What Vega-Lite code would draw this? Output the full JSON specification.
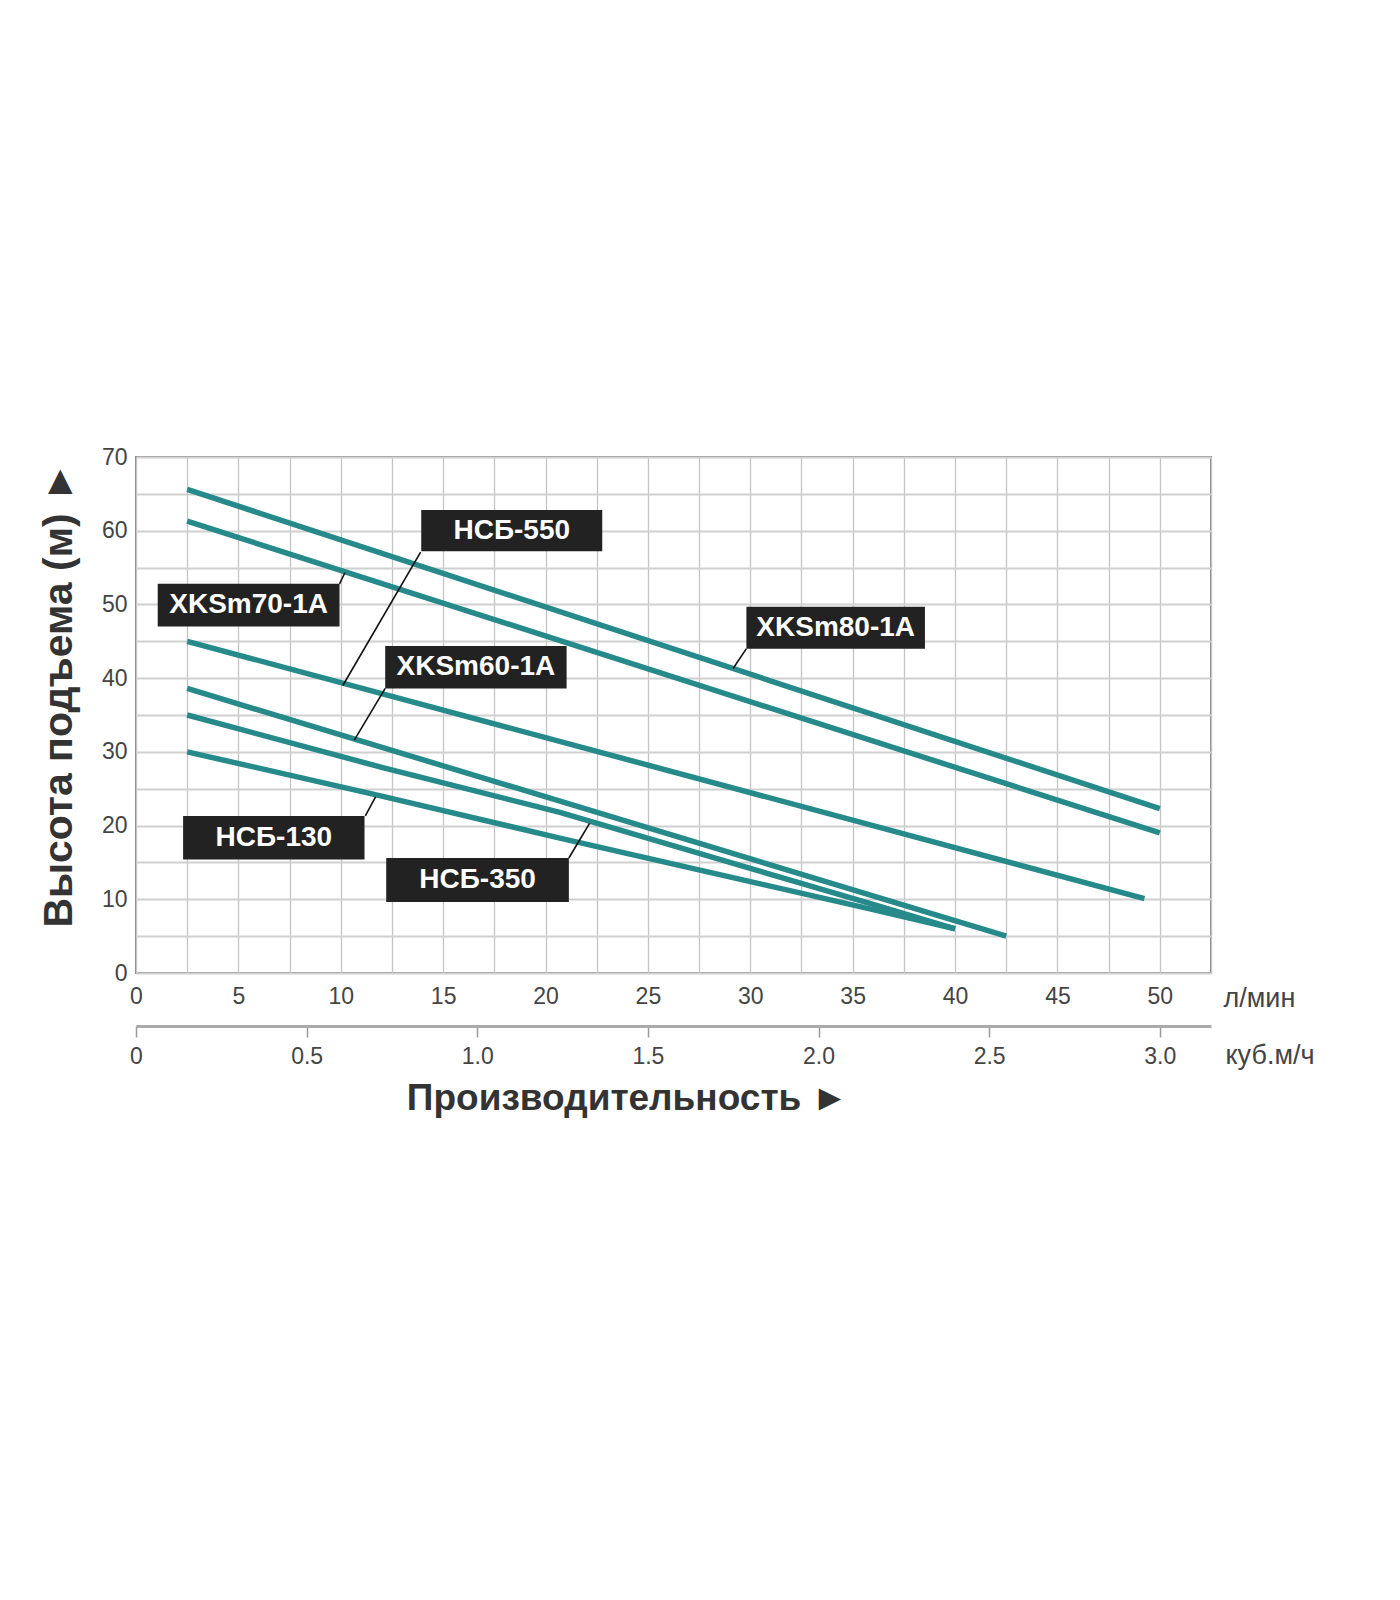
{
  "$schema": "https://vega.github.io/schema/vega-lite/v6.json",
  "autosize": "none",
  "padding": {"left": 136, "top": 457, "right": 189, "bottom": 627},
  "width": 1075,
  "height": 516,
  "background": "white",
  "config": {
    "font": "Liberation Sans, Arial, sans-serif",
    "view": {"stroke": "#8a8a8a", "strokeWidth": 2}
  },
  "datasets": {
    "curves": [
      {"series": "XKSm80-1A", "q": 2.5, "h": 65.6},
      {"series": "XKSm80-1A", "q": 50, "h": 22.3},
      {"series": "XKSm70-1A", "q": 2.5, "h": 61.3},
      {"series": "XKSm70-1A", "q": 50, "h": 19.0},
      {"series": "НСБ-550", "q": 2.5, "h": 45.0},
      {"series": "НСБ-550", "q": 49.25, "h": 10.1},
      {"series": "XKSm60-1A", "q": 2.5, "h": 38.6},
      {"series": "XKSm60-1A", "q": 42.5, "h": 5.0},
      {"series": "НСБ-350", "q": 2.5, "h": 35.0},
      {"series": "НСБ-350", "q": 12, "h": 27.9},
      {"series": "НСБ-350", "q": 20.7, "h": 21.8},
      {"series": "НСБ-350", "q": 30, "h": 14.2},
      {"series": "НСБ-350", "q": 36, "h": 9.3},
      {"series": "НСБ-350", "q": 40, "h": 6.0},
      {"series": "НСБ-130", "q": 2.5, "h": 30.0},
      {"series": "НСБ-130", "q": 12, "h": 24.0},
      {"series": "НСБ-130", "q": 20.7, "h": 18.3},
      {"series": "НСБ-130", "q": 30, "h": 12.4},
      {"series": "НСБ-130", "q": 36, "h": 8.6},
      {"series": "НСБ-130", "q": 40, "h": 6.0}
    ],
    "labels": [
      {"label": "НСБ-550", "bx1": 13.93, "bx2": 22.77, "by1": 62.8, "by2": 57.2, "tx": 18.35, "ty": 60.0, "lx1": 13.9, "ly1": 57.1, "lx2": 10.1, "ly2": 39.0},
      {"label": "XKSm70-1A", "bx1": 1.06, "bx2": 9.94, "by1": 52.8, "by2": 47.0, "tx": 5.5, "ty": 49.9, "lx1": 9.94, "ly1": 52.8, "lx2": 10.2, "ly2": 54.3},
      {"label": "XKSm60-1A", "bx1": 12.17, "bx2": 21.03, "by1": 44.36, "by2": 38.58, "tx": 16.6, "ty": 41.47, "lx1": 12.17, "ly1": 38.6, "lx2": 10.66, "ly2": 31.6},
      {"label": "XKSm80-1A", "bx1": 29.81, "bx2": 38.53, "by1": 49.7, "by2": 44.0, "tx": 34.17, "ty": 46.85, "lx1": 29.81, "ly1": 44.0, "lx2": 29.16, "ly2": 41.3},
      {"label": "НСБ-130", "bx1": 2.3, "bx2": 11.16, "by1": 21.3, "by2": 15.4, "tx": 6.73, "ty": 18.35, "lx1": 11.2, "ly1": 21.3, "lx2": 11.7, "ly2": 23.9},
      {"label": "НСБ-350", "bx1": 12.22, "bx2": 21.14, "by1": 15.6, "by2": 9.62, "tx": 16.68, "ty": 12.6, "lx1": 21.14, "ly1": 15.6, "lx2": 22.15, "ly2": 20.3}
    ],
    "m3ticks": [{"m3": 0}, {"m3": 3}]
  },
  "layer": [
    {
      "encoding": {
        "x": {
          "type": "quantitative",
          "scale": {"domain": [0, 52.5], "nice": false, "zero": false},
          "axis": {
            "values": [0, 2.5, 5, 7.5, 10, 12.5, 15, 17.5, 20, 22.5, 25, 27.5, 30, 32.5, 35, 37.5, 40, 42.5, 45, 47.5, 50, 52.5],
            "labelExpr": "datum.value % 5 === 0 && datum.value <= 50 ? format(datum.value, 'd') : ''",
            "labelFlush": false,
            "domain": false,
            "ticks": false,
            "grid": true,
            "gridColor": "#c4c4c4",
            "gridWidth": 1.3,
            "labelPadding": 12,
            "labelFontSize": 23,
            "labelColor": "#444444",
            "title": "л/мин",
            "titleX": 1087,
            "titleY": 25,
            "titleAlign": "left",
            "titleBaseline": "middle",
            "titleFontSize": 27,
            "titleFontWeight": "normal",
            "titleColor": "#444444"
          }
        },
        "y": {
          "type": "quantitative",
          "scale": {"domain": [0, 70], "nice": false, "zero": false},
          "axis": {
            "values": [0, 5, 10, 15, 20, 25, 30, 35, 40, 45, 50, 55, 60, 65, 70],
            "labelExpr": "datum.value % 10 === 0 ? format(datum.value, 'd') : ''",
            "labelFlush": false,
            "domain": false,
            "ticks": false,
            "grid": true,
            "gridColor": "#d0d0d0",
            "gridWidth": 2,
            "labelPadding": 9,
            "labelFontSize": 23,
            "labelColor": "#444444",
            "title": "Высота подъема (м) ►",
            "titleX": -77,
            "titleY": 237,
            "titleAngle": 270,
            "titleAlign": "center",
            "titleBaseline": "middle",
            "titleFontSize": 41,
            "titleFontWeight": "bold",
            "titleColor": "#333333"
          }
        }
      },
      "layer": [
        {
          "data": {"name": "curves"},
          "mark": {"type": "line", "color": "#268a8a", "strokeWidth": 5.5, "strokeCap": "butt", "strokeJoin": "round"},
          "encoding": {
            "x": {"field": "q", "type": "quantitative"},
            "y": {"field": "h", "type": "quantitative"},
            "detail": {"field": "series"}
          }
        },
        {
          "data": {"name": "labels"},
          "mark": {"type": "rule", "color": "#111111", "strokeWidth": 1.6},
          "encoding": {
            "x": {"field": "lx1", "type": "quantitative"},
            "x2": {"field": "lx2"},
            "y": {"field": "ly1", "type": "quantitative"},
            "y2": {"field": "ly2"}
          }
        },
        {
          "data": {"name": "labels"},
          "mark": {"type": "rect", "color": "#222222"},
          "encoding": {
            "x": {"field": "bx1", "type": "quantitative"},
            "x2": {"field": "bx2"},
            "y": {"field": "by1", "type": "quantitative"},
            "y2": {"field": "by2"}
          }
        },
        {
          "data": {"name": "labels"},
          "mark": {"type": "text", "color": "white", "fontSize": 28, "fontWeight": "bold", "align": "center", "baseline": "middle"},
          "encoding": {
            "x": {"field": "tx", "type": "quantitative"},
            "y": {"field": "ty", "type": "quantitative"},
            "text": {"field": "label"}
          }
        }
      ]
    },
    {
      "data": {"name": "m3ticks"},
      "mark": {"type": "point", "opacity": 0},
      "encoding": {
        "x": {
          "field": "m3",
          "type": "quantitative",
          "scale": {"domain": [0, 3.15], "nice": false, "zero": false},
          "axis": {
            "orient": "bottom",
            "offset": 53,
            "values": [0, 0.5, 1, 1.5, 2, 2.5, 3],
            "labelExpr": "datum.value === 0 ? '0' : format(datum.value, '.1f')",
            "labelFlush": false,
            "grid": false,
            "domain": true,
            "domainColor": "#aaaaaa",
            "domainWidth": 3,
            "ticks": true,
            "tickColor": "#999999",
            "tickSize": 11,
            "tickWidth": 1.5,
            "labelPadding": 8,
            "labelFontSize": 23,
            "labelColor": "#444444",
            "title": "куб.м/ч",
            "titleX": 1089,
            "titleY": 29,
            "titleAlign": "left",
            "titleBaseline": "middle",
            "titleFontSize": 27,
            "titleFontWeight": "normal",
            "titleColor": "#444444"
          }
        }
      }
    },
    {
      "data": {"name": "m3ticks"},
      "mark": {"type": "point", "opacity": 0},
      "encoding": {
        "x": {
          "field": "m3",
          "type": "quantitative",
          "scale": {"domain": [0, 3.15], "nice": false, "zero": false},
          "axis": {
            "orient": "bottom",
            "offset": 0,
            "grid": false,
            "domain": false,
            "ticks": false,
            "labels": false,
            "title": "Производительность ►",
            "titleX": 491,
            "titleY": 125,
            "titleAlign": "center",
            "titleBaseline": "middle",
            "titleFontSize": 37,
            "titleFontWeight": "bold",
            "titleColor": "#333333"
          }
        }
      }
    }
  ],
  "resolve": {"scale": {"x": "independent"}, "axis": {"x": "independent"}}
}
